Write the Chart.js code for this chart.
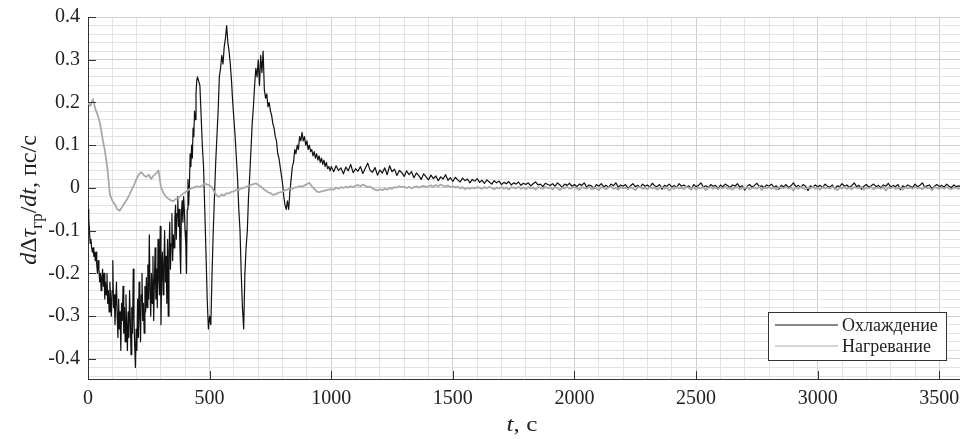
<!DOCTYPE html>
<html>
<head>
<meta charset="utf-8">
<script src="https://cdn.jsdelivr.net/npm/chart.js@4.4.0/dist/chart.umd.min.js"></script>
<style>
    html, body { margin: 0; padding: 0; background: #fff; }
    #wrap { width: 960px; height: 439px; }
</style>
</head>
<body>
<div id="wrap"><canvas id="chart" width="960" height="439"></canvas></div>
<script>
// Охлаждение: 0–450 с шаг 3 с, 455–1000 с шаг 5 с, дальше шаг 10 с
const coolA = [
    -0.05, -0.07, -0.1, -0.13, -0.12, -0.14, -0.15, -0.14, -0.16, -0.15,
    -0.17, -0.15, -0.18, -0.2, -0.17, -0.19, -0.22, -0.2, -0.24, -0.21,
    -0.19, -0.23, -0.2, -0.26, -0.22, -0.25, -0.2, -0.27, -0.24, -0.29,
    -0.22, -0.26, -0.3, -0.24, -0.17, -0.28, -0.25, -0.32, -0.27, -0.22,
    -0.3, -0.35, -0.26, -0.33, -0.29, -0.38, -0.27, -0.31, -0.23, -0.34,
    -0.28, -0.36, -0.25, -0.32, -0.38, -0.29, -0.35, -0.24, -0.31, -0.39,
    -0.28, -0.34, -0.19, -0.31, -0.37, -0.42, -0.33, -0.38, -0.26, -0.35,
    -0.22, -0.3, -0.36, -0.25, -0.2, -0.31, -0.27, -0.34, -0.23, -0.29,
    -0.21, -0.28, -0.18, -0.26, -0.11, -0.24, -0.3, -0.2, -0.27, -0.16,
    -0.31, -0.22, -0.14, -0.26, -0.19, -0.28, -0.12, -0.21, -0.25, -0.09,
    -0.32, -0.2, -0.15, -0.25, -0.18, -0.1, -0.22, -0.16, -0.27, -0.12,
    -0.3, -0.15, -0.08, -0.19, -0.13, -0.06, -0.17, -0.11, -0.14, -0.07,
    -0.04, -0.12, -0.06, -0.02, -0.09, -0.05, -0.14, -0.2, -0.06, -0.03,
    -0.08, -0.02, -0.05, -0.1, -0.13, -0.2, -0.05, 0.02, -0.04, 0.01,
    0.08, 0.05, 0.1, 0.07, 0.14, 0.12, 0.18, 0.16, 0.22, 0.25,
    0.26
];
const coolB = [
    0.25, 0.24, 0.17, 0.1, 0.05, -0.05, -0.15, -0.26, -0.33, -0.3,
    -0.32, -0.2, -0.1, -0.02, 0.06, 0.12, 0.18, 0.26, 0.28, 0.31,
    0.29, 0.33, 0.35, 0.38, 0.34, 0.32, 0.29, 0.25, 0.2, 0.16,
    0.12, 0.07, 0.02, -0.05, -0.1, -0.2, -0.28, -0.33, -0.2, -0.14,
    -0.1, -0.02, 0.03, 0.09, 0.15, 0.19, 0.24, 0.28, 0.26, 0.3,
    0.24, 0.31, 0.27, 0.32, 0.23, 0.21, 0.22, 0.19, 0.2, 0.18,
    0.17, 0.15, 0.14, 0.12, 0.11, 0.08, 0.07, 0.05, 0.03, 0.01,
    -0.02, -0.04, -0.05, -0.03, -0.05, -0.01, 0.02, 0.05, 0.06, 0.09,
    0.08, 0.1, 0.09, 0.12, 0.11, 0.13, 0.11, 0.12, 0.1, 0.11,
    0.09, 0.1, 0.085, 0.09, 0.075, 0.085, 0.07, 0.08, 0.065, 0.075,
    0.06, 0.07, 0.055, 0.065, 0.05, 0.06, 0.045, 0.05, 0.04, 0.05
];
const coolC = [
    0.038, 0.052, 0.041, 0.047, 0.033, 0.049, 0.04, 0.055, 0.036, 0.045,
    0.039, 0.05, 0.034, 0.046, 0.058, 0.041, 0.037, 0.048, 0.03, 0.042,
    0.035, 0.047, 0.031, 0.052, 0.038, 0.044, 0.029, 0.041, 0.036, 0.027,
    0.04, 0.031, 0.038, 0.024, 0.035, 0.029, 0.02, 0.033, 0.026, 0.019,
    0.03, 0.022, 0.028, 0.017, 0.026, 0.021, 0.031, 0.018, 0.024, 0.015,
    0.025, 0.019, 0.014, 0.023, 0.017, 0.021, 0.012, 0.02, 0.016, 0.022,
    0.013, 0.018, 0.011, 0.019, 0.014, 0.009, 0.017, 0.012, 0.016, 0.008,
    0.013, 0.01, 0.015, 0.007, 0.012, 0.009, 0.014, 0.006, 0.011, 0.008,
    0.012, 0.005, 0.01, 0.014, 0.007, 0.009, 0.003, 0.011, 0.008, 0.006,
    0.01, 0.004, 0.012, 0.007, 0.002, 0.009, 0.006, 0.011, 0.004, 0.008,
    0.003, 0.009, 0.006, 0.012, 0.002, 0.007, 0.005, -0.002, 0.008, 0.004,
    0.01, 0.003, 0.006, 0.001, 0.009, 0.005, 0.012, 0.002, 0.007, 0.004,
    0.008, -0.001, 0.005, 0.01, 0.003, 0.006, 0.001, 0.009, 0.004, 0.007,
    0.002, 0.011, 0.005, 0.003, 0.008, -0.003, 0.006, 0.004, 0.009, 0.002,
    0.006, 0.001, 0.01, 0.004, 0.007, 0.002, 0.005, -0.004, 0.008, 0.003,
    0.006, 0.012, 0.002, 0.005, 0.001, 0.008, 0.004, 0.006, -0.002, 0.007,
    0.003, 0.009, 0.005, 0.001, 0.007, 0.004, 0.01, 0.002, 0.005, -0.005,
    0.004, 0.008, 0.002, 0.006, 0.011, 0.003, 0.005, 0, 0.007, 0.004,
    0.009, 0.002, 0.005, -0.003, 0.006, 0.003, 0.008, 0.001, 0.005, 0.012,
    0.003, 0.006, 0.001, 0.008, 0.004, -0.006, 0.005, 0.002, 0.007, 0.003,
    0.006, 0.001, 0.009, 0.004, 0.002, 0.007, -0.002, 0.005, 0.003, 0.01,
    0.004, 0.007, 0.001, 0.005, 0.012, 0.003, 0.006, -0.003, 0.004, 0.008,
    0.002, 0.005, 0.009, 0.003, 0.006, 0, 0.007, 0.004, 0.011, 0.002,
    0.006, 0.003, 0.008, -0.004, 0.005, 0.002, 0.007, 0.004, 0.001, 0.009,
    0.003, 0.006, 0.012, 0.002, 0.005, 0.007, -0.002, 0.004, 0.008, 0.003,
    0.006, 0.002, 0.009, 0.004, 0.001, 0.007, 0.003, 0.005, 0.004
];

// Нагревание: шаг 10 с
const heatEarly = [
    0.2, 0.192, 0.208, 0.185, 0.17, 0.15, 0.115, 0.085, 0.045, -0.015,
    -0.03, -0.038, -0.05, -0.053, -0.045, -0.036, -0.027, -0.016, -0.004, 0.008,
    0.022, 0.032, 0.037, 0.029, 0.026, 0.031, 0.021, 0.029, 0.034, 0.041,
    0.002, -0.012, -0.02, -0.025, -0.029, -0.031, -0.026, -0.024, -0.019, -0.014,
    -0.01, -0.006, -0.002, 0, 0.002, 0.004, 0.002, 0.006, 0.01, 0.008,
    0.006, 0.001, -0.01, -0.018, -0.021, -0.015, -0.018, -0.012, -0.013, -0.009,
    -0.008, -0.004, -0.005, -0.001, 0, 0.003, 0.004, 0.007, 0.009, 0.011,
    0.007, 0.004, -0.002, -0.006, -0.01, -0.012, -0.016, -0.015, -0.012, -0.01,
    -0.009, -0.005, -0.004, -0.001, -0.002, 0.001, 0.002, 0.004, 0.003, 0.006,
    0.009, 0.012, 0.004, -0.002, -0.008, -0.01, -0.008, -0.007, -0.005, -0.004,
    -0.003
];
const heatLate = [
    -0.004, 0.001, -0.002, 0.002, 0, 0.003, 0.001, 0.004, 0.002, 0.005,
    0.007, 0.004, 0.008, 0.005, 0.002, 0.003, -0.001, -0.004, -0.006, -0.003,
    -0.005, -0.002, -0.004, 0, -0.002, 0.002, 0.001, 0.004, 0.002, 0.003,
    0, 0.003, -0.001, 0.002, 0.004, 0.001, 0.003, 0.005, 0.002, 0.004,
    0.006, 0.003, 0.007, 0.004, 0.008, 0.005, 0.003, 0.006, 0.002, 0.004,
    0.001, 0.003, -0.001, 0.002, -0.003, 0, -0.002, 0.001, -0.001, 0.002,
    0, -0.002, 0.002, -0.001, 0.003, 0, -0.003, 0.001, -0.001, 0.002,
    -0.002, 0.001, -0.004, 0.002, 0, -0.001, 0.003, -0.002, 0.001, -0.003,
    0.002, -0.001, 0.001, -0.004, 0.002, 0, -0.002, 0.003, -0.001, 0.001,
    -0.003, 0.002, 0, -0.005, 0.001, -0.001, 0.003, -0.002, 0, 0.002,
    -0.001, -0.004, 0.002, 0, -0.002, 0.003, -0.003, 0.001, -0.001, -0.005,
    0.002, 0, -0.003, 0.001, 0.003, -0.002, 0, -0.004, 0.002, -0.001,
    0.001, -0.003, 0.002, -0.001, -0.005, 0.001, 0.003, -0.002, 0, -0.003,
    0.002, -0.001, 0.001, -0.004, 0, 0.003, -0.002, 0.001, -0.006, 0,
    -0.002, 0.002, -0.001, 0.001, -0.003, 0.003, 0, -0.002, 0.002, -0.004,
    0.001, -0.001, 0.002, -0.005, 0, 0.002, -0.002, 0.001, -0.003, 0.002,
    -0.001, 0.003, -0.002, 0, -0.004, 0.001, 0.002, -0.003, 0.001, -0.001,
    0.002, -0.003, 0, 0.001, -0.002, 0.003, -0.005, 0.001, -0.001, 0.002,
    -0.002, 0.001, -0.004, 0.002, 0, -0.001, 0.003, -0.002, 0.001, -0.006,
    0.001, -0.002, 0.002, 0, -0.003, 0.001, -0.001, 0.003, -0.002, 0,
    -0.004, 0.002, -0.001, 0.001, -0.002, 0.003, 0, -0.005, 0.001, -0.001,
    0.002, -0.002, 0.001, -0.003, 0.002, 0, -0.001, 0.003, -0.004, 0.001,
    -0.001, 0.002, -0.003, 0, 0.001, -0.002, 0.002, -0.006, 0.001, -0.001,
    0.003, -0.002, 0, 0.001, -0.004, 0.002, -0.001, 0.001, -0.002, 0.003,
    -0.001, 0, -0.003, 0.002, -0.001, 0.001, -0.005, 0.002, 0, -0.002,
    0.001, -0.002, 0.002, -0.001, -0.003, 0.001, 0, -0.002, 0.001
];

const seriesNames = ['Охлаждение', 'Нагревание'];
const xTickLabels = [0, 500, 1000, 1500, 2000, 2500, 3000, 3500];
const yTickLabels = [-0.4, -0.3, -0.2, -0.1, 0, 0.1, 0.2, 0.3, 0.4];

const FONT = '"Liberation Serif", "Times New Roman", serif';

// собрать точки {x, y} из участков: [начало, шаг, значения]
function toPoints(segments) {
    const pts = [];
    segments.forEach(([start, step, values]) => {
        values.forEach((v, i) => pts.push({ x: start + i * step, y: v }));
    });
    return pts;
}

function isMajorX(v) { return xTickLabels.includes(v); }
function isMajorY(v) { return yTickLabels.some(t => Math.abs(t - v) < 1e-9); }

// засечки внутрь, легенда, подписи осей
const decorPlugin = {
    id: 'decor',
    afterDraw(chart) {
        const { ctx, chartArea: a, scales: { x, y } } = chart;
        ctx.save();
        ctx.strokeStyle = '#333';
        ctx.lineWidth = 1;
        xTickLabels.forEach(v => {
            const px = Math.round(x.getPixelForValue(v)) + 0.5;
            ctx.beginPath();
            ctx.moveTo(px, a.bottom);
            ctx.lineTo(px, a.bottom - 8);
            ctx.stroke();
        });
        yTickLabels.forEach(v => {
            const py = Math.round(y.getPixelForValue(v)) + 0.5;
            ctx.beginPath();
            ctx.moveTo(a.left, py);
            ctx.lineTo(a.left + 8, py);
            ctx.stroke();
        });

        // легенда
        const lx = 768, ly = 312, lw = 178, lh = 48;
        ctx.fillStyle = '#fff';
        ctx.fillRect(lx, ly, lw, lh);
        ctx.strokeStyle = '#333';
        ctx.strokeRect(lx + 0.5, ly + 0.5, lw, lh);
        ctx.font = '18px ' + FONT;
        ctx.textBaseline = 'middle';
        ctx.textAlign = 'left';
        seriesNames.forEach((name, i) => {
            const ds = chart.data.datasets[i];
            const yy = ly + 13 + i * 21;
            ctx.strokeStyle = ds.borderColor;
            ctx.lineWidth = i === 0 ? 1.2 : 1;
            ctx.beginPath();
            ctx.moveTo(lx + 7, yy);
            ctx.lineTo(lx + 70, yy);
            ctx.stroke();
            ctx.fillStyle = '#222';
            ctx.fillText(name, lx + 74, yy + 1);
        });
        ctx.restore();

        // подпись оси Y: dΔτ_гр/dt, пс/с
        ctx.save();
        const parts = [
            { t: 'd', f: 'italic 24px ' + FONT, dy: 0 },
            { t: 'Δ', f: '24px ' + FONT, dy: 0 },
            { t: 'τ', f: 'italic 24px ' + FONT, dy: 0 },
            { t: 'гр', f: '17px ' + FONT, dy: 6 },
            { t: '/', f: '24px ' + FONT, dy: 0 },
            { t: 'dt', f: 'italic 24px ' + FONT, dy: 0 },
            { t: ', пс/с', f: '24px ' + FONT, dy: 0 }
        ];
        let total = 0;
        parts.forEach(p => { ctx.font = p.f; p.w = ctx.measureText(p.t).width; total += p.w; });
        ctx.translate(36, 200);
        ctx.rotate(-Math.PI / 2);
        ctx.fillStyle = '#222';
        ctx.textBaseline = 'alphabetic';
        let cx = -total / 2;
        parts.forEach(p => {
            ctx.font = p.f;
            ctx.fillText(p.t, cx, p.dy);
            cx += p.w;
        });
        ctx.restore();

        // подпись оси X: t, с
        ctx.save();
        ctx.fillStyle = '#222';
        ctx.textBaseline = 'alphabetic';
        ctx.font = 'italic 21px ' + FONT;
        const w1 = ctx.measureText('t').width;
        ctx.font = '21px ' + FONT;
        const w2 = ctx.measureText(', с').width;
        ctx.translate(522, 431);
        ctx.scale(1.2, 1);
        const sx = -(w1 + w2) / 2;
        ctx.font = 'italic 21px ' + FONT;
        ctx.fillText('t', sx, 0);
        ctx.font = '21px ' + FONT;
        ctx.fillText(', с', sx + w1, 0);
        ctx.restore();
    }
};

const ctx = document.getElementById('chart').getContext('2d');
const chart = new Chart(ctx, {
    type: 'line',
    data: {
        datasets: [{
            label: seriesNames[0],
            data: toPoints([[0, 3, coolA], [455, 5, coolB], [1010, 10, coolC]]),
            borderColor: '#111111',
            borderWidth: 1.2,
            order: 1
        }, {
            label: seriesNames[1],
            data: toPoints([[0, 10, heatEarly], [1010, 10, heatLate]]),
            borderColor: '#a9a9a9',
            borderWidth: 1.8,
            order: 0
        }]
    },
    options: {
        responsive: false,
        animation: false,
        layout: { padding: { top: 17, right: 0, left: 0, bottom: 0 } },
        elements: {
            point: { radius: 0 },
            line: { tension: 0, borderJoinStyle: 'round' }
        },
        plugins: {
            legend: { display: false },
            tooltip: { enabled: false }
        },
        scales: {
            x: {
                type: 'linear',
                min: 0,
                max: 3585,
                afterBuildTicks: scale => {
                    const ticks = [];
                    for (let v = 0; v <= 3500; v += 100) ticks.push({ value: v });
                    scale.ticks = ticks;
                },
                afterFit: scale => {
                    scale.height = 60;
                    scale.paddingLeft = 0;
                    scale.paddingRight = 0;
                },
                ticks: {
                    autoSkip: false,
                    maxRotation: 0,
                    padding: 8,
                    color: '#222',
                    font: { family: FONT, size: 20 },
                    callback: v => isMajorX(v) ? String(v) : ''
                },
                grid: {
                    drawTicks: false,
                    color: c => (c.tick && isMajorX(c.tick.value)) ? '#cfcfcf' : '#e3e3e3'
                },
                border: { color: '#333', width: 1 }
            },
            y: {
                min: -0.447,
                max: 0.4,
                afterBuildTicks: scale => {
                    const ticks = [];
                    for (let i = -22; i <= 20; i++) ticks.push({ value: i / 50 });
                    scale.ticks = ticks;
                },
                afterFit: scale => {
                    scale.width = 88;
                    scale.paddingTop = 0;
                    scale.paddingBottom = 0;
                },
                ticks: {
                    autoSkip: false,
                    padding: 8,
                    color: '#222',
                    font: { family: FONT, size: 20 },
                    callback: v => isMajorY(v) ? (Math.abs(v) < 1e-9 ? '0' : v.toFixed(1)) : ''
                },
                grid: {
                    drawTicks: false,
                    color: c => (c.tick && isMajorY(c.tick.value)) ? '#cfcfcf' : '#e3e3e3'
                },
                border: { color: '#333', width: 1 }
            }
        }
    },
    plugins: [decorPlugin]
});
</script>
</body>
</html>
